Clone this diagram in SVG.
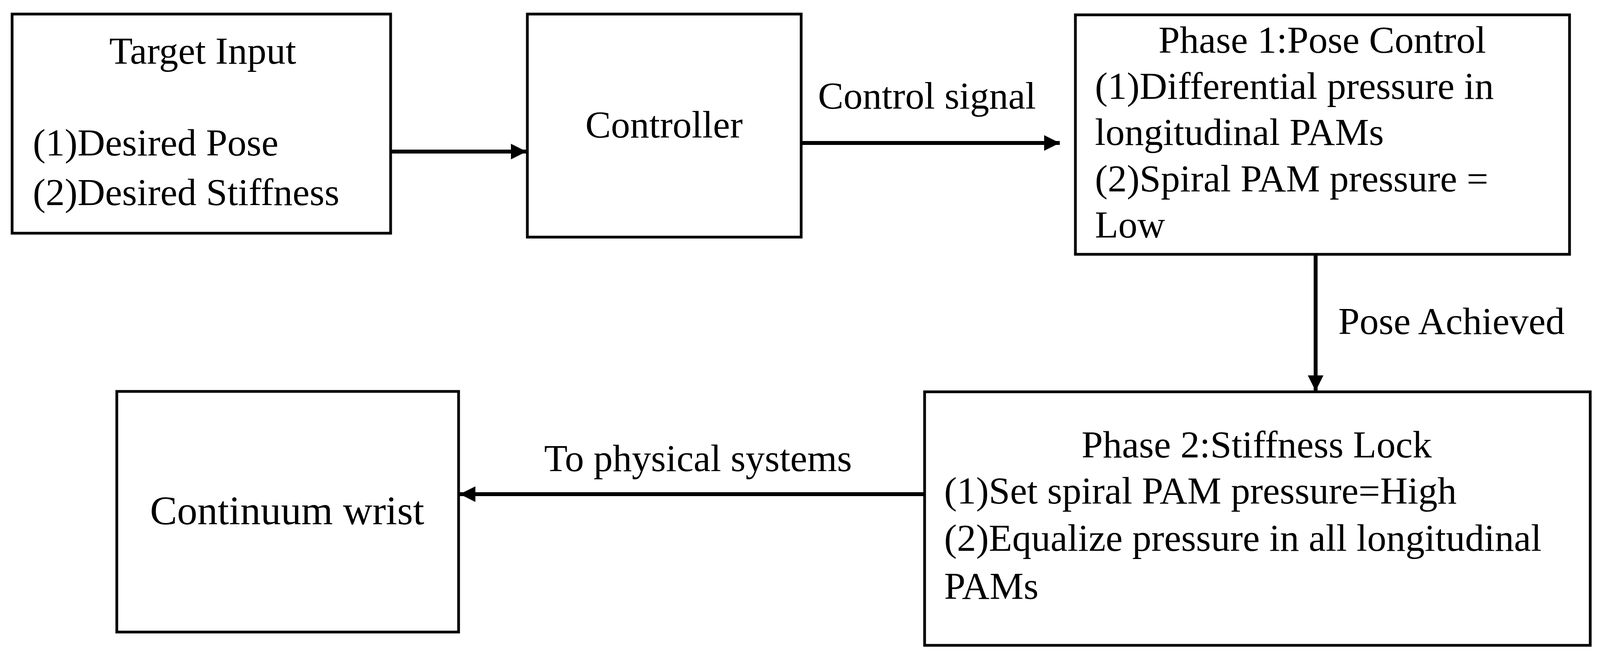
<svg xmlns="http://www.w3.org/2000/svg" width="4109" height="1687" viewBox="0 0 4109 1687">
<style>
.box{fill:#fff;stroke:#000;stroke-width:7}
text{font-family:"Liberation Serif","Times New Roman",serif;font-size:98px;fill:#000}
.c{text-anchor:middle}
.ln{stroke:#000;stroke-width:10;fill:none}
</style>
<defs>
<marker id="ah" viewBox="0 0 10 10" refX="10" refY="5" markerWidth="4" markerHeight="4" markerUnits="strokeWidth" orient="auto">
<path d="M0,0 L10,5 L0,10 z" fill="#000"/>
</marker>
</defs>
<rect width="4109" height="1687" fill="#fff"/>
<g id="target">
<rect class="box" x="31" y="36" width="969" height="561"/>
<text class="c" x="519" y="163">Target Input</text>
<text x="84" y="398">(1)Desired Pose</text>
<text x="84" y="525">(2)Desired Stiffness</text>
</g>
<g id="controller">
<rect class="box" x="1350" y="36" width="701" height="571"/>
<text class="c" x="1700" y="352">Controller</text>
</g>
<g id="phase1">
<rect class="box" x="2753" y="38" width="1265" height="613"/>
<text class="c" x="3385" y="135">Phase 1:Pose Control</text>
<text x="2803" y="253">(1)Differential pressure in</text>
<text x="2803" y="371">longitudinal PAMs</text>
<text x="2803" y="490">(2)Spiral PAM pressure =</text>
<text x="2803" y="608">Low</text>
</g>
<g id="phase2">
<rect class="box" x="2367" y="1003" width="1704" height="649"/>
<text class="c" x="3217" y="1171">Phase 2:Stiffness Lock</text>
<text x="2417" y="1289">(1)Set spiral PAM pressure=High</text>
<text x="2417" y="1410">(2)Equalize pressure in all longitudinal</text>
<text x="2417" y="1533">PAMs</text>
</g>
<g id="wrist">
<rect class="box" x="299" y="1002" width="875" height="616"/>
<text class="c" x="735" y="1342" style="font-size:104px">Continuum wrist</text>
</g>
<g id="connectors">
<line class="ln" x1="1003" y1="388" x2="1348" y2="388" marker-end="url(#ah)"/>
<line class="ln" x1="2054" y1="366" x2="2713" y2="366" marker-end="url(#ah)"/>
<text x="2094" y="278">Control signal</text>
<line class="ln" x1="3368" y1="654" x2="3368" y2="1001" marker-end="url(#ah)"/>
<text x="3426" y="855">Pose Achieved</text>
<line class="ln" x1="2364" y1="1265" x2="1177" y2="1265" marker-end="url(#ah)"/>
<text class="c" x="1787" y="1206">To physical systems</text>
</g>
</svg>
